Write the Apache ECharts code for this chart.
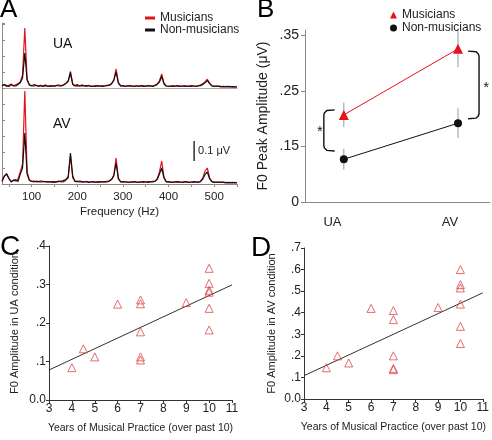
<!DOCTYPE html>
<html><head><meta charset="utf-8">
<script src="https://cdn.jsdelivr.net/npm/echarts@6/dist/echarts.min.js"></script>
<style>html,body{margin:0;padding:0;background:#fff}#c{width:492px;height:440px}</style>
</head><body><div id="c"></div>
<script>
const FONT = 'Liberation Sans, Arial, Helvetica, sans-serif';
const RED = '#e3131b';
const BLACK = '#111111';

// ---------- Panel A : spectra (µV) ----------
const freqHz = [
 35,40,45,50,55,60,65,70,75,80,
 85,90,95,100,105,110,115,120,125,130,
 135,140,145,150,155,160,165,170,175,180,
 185,190,195,200,205,210,215,220,225,230,
 235,240,245,250,255,260,265,270,275,280,
 285,290,295,300,305,310,315,320,325,330,
 335,340,345,350,355,360,365,370,375,380,
 385,390,395,400,405,410,415,420,425,430,
 435,440,445,450,455,460,465,470,475,480,
 485,490,495,500,505,510,515,520,525,530,
 535,540,545,550];
const uaMusicians = [
 0.012,0.016,0.008,0.014,0.020,0.010,0.016,0.022,0.030,0.065,
 0.300,0.045,0.014,0.010,0.018,0.012,0.008,0.014,0.010,0.016,
 0.008,0.012,0.010,0.008,0.012,0.016,0.010,0.014,0.022,0.032,
 0.072,0.020,0.012,0.018,0.010,0.016,0.012,0.008,0.014,0.010,
 0.008,0.012,0.010,0.008,0.012,0.010,0.014,0.012,0.020,0.040,
 0.096,0.028,0.012,0.010,0.008,0.012,0.010,0.008,0.010,0.012,
 0.008,0.010,0.012,0.008,0.010,0.012,0.010,0.014,0.020,0.036,
 0.070,0.024,0.010,0.008,0.010,0.012,0.008,0.010,0.008,0.010,
 0.012,0.008,0.010,0.008,0.010,0.008,0.012,0.014,0.022,0.032,
 0.044,0.024,0.012,0.010,0.008,0.010,0.008,0.006,0.008,0.006,
 0.008,0.006,0.007,0.006];
const uaNonMusicians = [
 0.010,0.018,0.012,0.008,0.016,0.012,0.010,0.018,0.026,0.050,
 0.175,0.040,0.016,0.012,0.010,0.014,0.010,0.012,0.008,0.012,
 0.010,0.008,0.012,0.010,0.014,0.010,0.012,0.016,0.024,0.035,
 0.082,0.018,0.010,0.012,0.010,0.012,0.010,0.012,0.010,0.008,
 0.010,0.008,0.012,0.010,0.008,0.010,0.012,0.014,0.022,0.038,
 0.080,0.024,0.010,0.012,0.008,0.010,0.012,0.010,0.008,0.010,
 0.010,0.012,0.008,0.010,0.012,0.010,0.008,0.012,0.018,0.030,
 0.058,0.020,0.010,0.008,0.010,0.008,0.010,0.012,0.008,0.010,
 0.008,0.010,0.008,0.012,0.010,0.008,0.010,0.012,0.018,0.026,
 0.038,0.022,0.010,0.008,0.010,0.008,0.006,0.008,0.006,0.008,
 0.006,0.007,0.005,0.006];
const avMusicians = [
 0.015,0.040,0.052,0.030,0.012,0.020,0.014,0.025,0.060,0.100,
 0.465,0.060,0.020,0.012,0.016,0.010,0.012,0.016,0.010,0.014,
 0.010,0.012,0.008,0.014,0.010,0.012,0.016,0.010,0.020,0.030,
 0.140,0.030,0.014,0.010,0.016,0.012,0.010,0.014,0.010,0.012,
 0.010,0.008,0.012,0.010,0.012,0.010,0.014,0.016,0.024,0.045,
 0.130,0.030,0.012,0.010,0.012,0.008,0.010,0.012,0.010,0.008,
 0.010,0.012,0.008,0.010,0.012,0.010,0.014,0.012,0.025,0.060,
 0.115,0.035,0.012,0.010,0.008,0.010,0.012,0.008,0.010,0.008,
 0.010,0.012,0.008,0.010,0.008,0.012,0.010,0.014,0.030,0.065,
 0.080,0.030,0.012,0.010,0.008,0.010,0.008,0.010,0.008,0.006,
 0.008,0.006,0.008,0.006];
const avNonMusicians = [
 0.012,0.038,0.050,0.028,0.010,0.018,0.022,0.012,0.050,0.080,
 0.255,0.050,0.018,0.014,0.010,0.014,0.012,0.010,0.014,0.010,
 0.012,0.010,0.012,0.008,0.012,0.014,0.010,0.018,0.022,0.035,
 0.155,0.040,0.012,0.014,0.010,0.012,0.010,0.012,0.008,0.010,
 0.012,0.010,0.008,0.012,0.010,0.012,0.010,0.014,0.022,0.040,
 0.105,0.026,0.010,0.012,0.010,0.010,0.008,0.010,0.012,0.010,
 0.008,0.010,0.012,0.010,0.008,0.012,0.010,0.014,0.022,0.050,
 0.080,0.030,0.010,0.012,0.010,0.008,0.010,0.012,0.010,0.008,
 0.012,0.010,0.008,0.010,0.012,0.010,0.008,0.012,0.025,0.048,
 0.060,0.026,0.012,0.008,0.010,0.008,0.010,0.008,0.006,0.008,
 0.006,0.008,0.006,0.007];
const freqTickLabels = [100,200,300,400,500];
const scaleBar = [[456, 0.115, 0.1]];   // freq, base, size (µV)
const scaleBarLabel = '0.1 μV';

// ---------- Panel B ----------
const conditions = ['UA','AV'];
const condX = [1, 2];
const condLabelX = [0.9, 1.93];
const bMusMean = [0.207, 0.326];
const bMusErr  = [0.022, 0.033];
const bNonMean = [0.127, 0.192];
const bNonErr  = [0.019, 0.027];
const bTickVals   = [0.05, 0.15, 0.25, 0.35];
const bTickLabels = ['0', '.15', '.25', '.35'];
const brackets = [[0.92, 0.825, 0.216, 0.142], [2.088, 2.184, 0.322, 0.200]];
const stars = [[0.79, 0.176], [2.246, 0.255]];

// ---------- Panels C / D ----------
const years = [4,4.5,5,6,7,7,7,7,7,9,10,10,10,10,10,10];
const f0UA = [0.084,0.133,0.112,0.249,0.260,0.250,0.177,0.112,0.104,0.253,0.342,0.303,0.285,0.280,0.238,0.182];
const f0AV = [0.145,0.200,0.167,0.420,0.410,0.368,0.200,0.142,0.136,0.424,0.600,0.530,0.515,0.440,0.337,0.257];
const fitUA = [[3,0.078],[11,0.299]];
const fitAV = [[3,0.108],[11,0.492]];

const zip = (xs, ys) => xs.map((x,i) => [x, ys[i]]);
const decFmt = v => v === 0 ? '0.0' : v.toFixed(1).replace(/^0/, '');
const txt = (size, extra) => Object.assign({fontFamily: FONT, fontSize: size, color: '#222'}, extra || {});

const chart = echarts.init(document.getElementById('c'), null, {renderer: 'canvas'});

const gray = '#8a8a8a';
const option = {
  animation: false,
  backgroundColor: '#fff',
  textStyle: {fontFamily: FONT},
  grid: [
    {left: 2, top: 23, width: 235, height: 65},
    {left: 2, top: 88, width: 235, height: 96},
    {left: 305, top: 30, width: 185, height: 172},
    {left: 49, top: 246, width: 183, height: 154},
    {left: 304, top: 248, width: 183, height: 151}
  ],
  legend: [
    {left: 140, top: 7, orient: 'vertical', itemWidth: 10, itemHeight: 3, itemGap: 0,
     textStyle: txt(12, {lineHeight: 12}), selectedMode: false,
     data: [{name: 'Musicians', icon: 'rect'}, {name: 'Non-musicians', icon: 'rect'}]},
    {left: 385, top: 4, orient: 'vertical', itemWidth: 7, itemHeight: 7, itemGap: 1,
     textStyle: txt(12, {lineHeight: 12}), selectedMode: false,
     data: [{name: 'Musicians', icon: 'triangle'}, {name: 'Non-musicians', icon: 'circle'}]}
  ],
  xAxis: [
    {gridIndex: 0, type: 'value', min: 35, max: 550, axisLine: {lineStyle: {color: '#aaa'}},
     axisTick: {show: false}, axisLabel: {show: false}, splitLine: {show: false}},
    {gridIndex: 1, type: 'value', min: 35, max: 550, axisLine: {lineStyle: {color: gray}},
     axisTick: {customValues: [50,100,150,200,250,300,350,400,450,500,550], length: 3, lineStyle: {color: gray}},
     axisLabel: {customValues: freqTickLabels, margin: 7, ...txt(11.5)},
     splitLine: {show: false},
     name: 'Frequency (Hz)', nameLocation: 'middle', nameGap: 22, nameTextStyle: txt(11.5)},
    {gridIndex: 2, type: 'value', min: 0.66, max: 2.28, axisLine: {lineStyle: {color: gray}},
     axisTick: {show: false},
     axisLabel: {customValues: condLabelX, margin: 14, ...txt(13),
                 formatter: v => conditions[condLabelX.indexOf(v)]},
     splitLine: {show: false}},
    {gridIndex: 3, type: 'value', min: 3, max: 11, interval: 1, axisLine: {lineStyle: {color: '#333'}},
     axisTick: {length: 3, lineStyle: {color: '#333'}}, axisLabel: {margin: 3, ...txt(12)},
     splitLine: {show: false},
     name: 'Years of Musical Practice (over past 10)', nameLocation: 'middle', nameGap: 23, nameTextStyle: txt(10.5)},
    {gridIndex: 4, type: 'value', min: 3, max: 11, interval: 1, axisLine: {lineStyle: {color: '#333'}},
     axisTick: {length: 3, lineStyle: {color: '#333'}}, axisLabel: {margin: 3, ...txt(12)},
     splitLine: {show: false},
     name: 'Years of Musical Practice (over past 10)', nameLocation: 'middle', nameGap: 23, nameTextStyle: txt(10.5)}
  ],
  yAxis: [
    {gridIndex: 0, type: 'value', min: 0, max: 0.325, interval: 0.08,
     axisLine: {show: true, lineStyle: {color: gray}},
     axisTick: {show: true, inside: true, length: 3, lineStyle: {color: gray}},
     axisLabel: {show: false}, splitLine: {show: false}},
    {gridIndex: 1, type: 'value', min: 0, max: 0.48, interval: 0.08,
     axisLine: {show: true, lineStyle: {color: gray}},
     axisTick: {show: true, inside: true, length: 3, lineStyle: {color: gray}},
     axisLabel: {show: false}, splitLine: {show: false}},
    {gridIndex: 2, type: 'value', min: 0.05, max: 0.36,
     axisLine: {show: true, lineStyle: {color: gray}},
     axisTick: {show: true, customValues: bTickVals, length: 4, lineStyle: {color: gray}},
     axisLabel: {customValues: bTickVals, margin: 6, ...txt(14),
                 formatter: v => bTickLabels[bTickVals.indexOf(v)]},
     splitLine: {show: false},
     name: 'F0 Peak Amplitude (μV)', nameLocation: 'middle', nameGap: 35, nameTextStyle: txt(14)},
    {gridIndex: 3, type: 'value', min: 0, max: 0.4, interval: 0.1,
     axisLine: {show: true, lineStyle: {color: '#333'}},
     axisTick: {show: true, length: 3, lineStyle: {color: '#333'}},
     axisLabel: {margin: 3, formatter: decFmt, ...txt(12)}, splitLine: {show: false},
     name: 'F0 Amplitude in UA condition', nameLocation: 'middle', nameGap: 29, nameTextStyle: txt(11)},
    {gridIndex: 4, type: 'value', min: 0, max: 0.7, interval: 0.1,
     axisLine: {show: true, lineStyle: {color: '#333'}},
     axisTick: {show: true, length: 3, lineStyle: {color: '#333'}},
     axisLabel: {margin: 3, formatter: decFmt, ...txt(12)}, splitLine: {show: false},
     name: 'F0 Amplitude in AV condition', nameLocation: 'middle', nameGap: 27, nameTextStyle: txt(11)}
  ],
  graphic: [
    {type: 'text', left: 0, top: -3, style: {text: 'A', font: '26px ' + FONT, fill: '#000'}},
    {type: 'text', left: 257, top: -3, style: {text: 'B', font: '26px ' + FONT, fill: '#000'}},
    {type: 'text', left: 0, top: 233, style: {text: 'C', font: '28px ' + FONT, fill: '#000'}},
    {type: 'text', left: 251, top: 234, style: {text: 'D', font: '28px ' + FONT, fill: '#000'}},
    {type: 'text', left: 53, top: 37, style: {text: 'UA', font: '14px ' + FONT, fill: '#111'}},
    {type: 'text', left: 53, top: 117, style: {text: 'AV', font: '14px ' + FONT, fill: '#111'}}
  ],
  series: [
    {name: 'Musicians', type: 'line', xAxisIndex: 0, yAxisIndex: 0, data: zip(freqHz, uaMusicians),
     showSymbol: false, color: RED, lineStyle: {width: 1.2, color: RED}, z: 2},
    {name: 'Non-musicians', type: 'line', xAxisIndex: 0, yAxisIndex: 0, data: zip(freqHz, uaNonMusicians),
     showSymbol: false, color: BLACK, lineStyle: {width: 1.2, color: BLACK}, z: 3},
    {name: 'Musicians', type: 'line', xAxisIndex: 1, yAxisIndex: 1, data: zip(freqHz, avMusicians),
     showSymbol: false, color: RED, lineStyle: {width: 1.2, color: RED}, z: 2},
    {name: 'Non-musicians', type: 'line', xAxisIndex: 1, yAxisIndex: 1, data: zip(freqHz, avNonMusicians),
     showSymbol: false, color: BLACK, lineStyle: {width: 1.2, color: BLACK}, z: 3},
    {type: 'custom', xAxisIndex: 1, yAxisIndex: 1, data: scaleBar, z: 4,
     renderItem: (p, api) => {
       const f = api.value(0), b = api.value(1), s = api.value(2);
       const p1 = api.coord([f, b]), p2 = api.coord([f, b + s]);
       return {type: 'group', children: [
         {type: 'line', shape: {x1: p1[0], y1: p1[1], x2: p2[0], y2: p2[1]}, style: {stroke: '#111', lineWidth: 1.3}},
         {type: 'text', style: {x: p1[0] + 4, y: (p1[1] + p2[1]) / 2, text: scaleBarLabel, fill: '#222',
           fontSize: 11, fontFamily: FONT, verticalAlign: 'middle', align: 'left'}}
       ]};
     }},
    // Panel B error bars
    {type: 'custom', xAxisIndex: 2, yAxisIndex: 2, z: 1,
     data: condX.map((x,i) => [x, bMusMean[i], bMusErr[i]]).concat(condX.map((x,i) => [x, bNonMean[i], bNonErr[i]])),
     renderItem: (p, api) => {
       const x = api.value(0), m = api.value(1), e = api.value(2);
       const a = api.coord([x, m + e]), b = api.coord([x, m - e]);
       return {type: 'line', shape: {x1: a[0], y1: a[1], x2: b[0], y2: b[1]}, style: {stroke: '#9a9a9a', lineWidth: 1}};
     }},
    {name: 'Musicians', type: 'line', xAxisIndex: 2, yAxisIndex: 2, data: zip(condX, bMusMean),
     symbol: 'triangle', symbolSize: 10, color: RED, itemStyle: {color: RED}, lineStyle: {color: RED, width: 1}, z: 3},
    {name: 'Non-musicians', type: 'line', xAxisIndex: 2, yAxisIndex: 2, data: zip(condX, bNonMean),
     symbol: 'circle', symbolSize: 8, color: BLACK, itemStyle: {color: BLACK}, lineStyle: {color: BLACK, width: 1}, z: 3},
    {type: 'custom', xAxisIndex: 2, yAxisIndex: 2, data: brackets, z: 2,
     renderItem: (p, api) => {
       const x0 = api.value(0), x1 = api.value(1), yT = api.value(2), yB = api.value(3);
       const a = api.coord([x0, yT]), c = api.coord([x1, yT]), d = api.coord([x1, yB]), b = api.coord([x0, yB]);
       const dir = a[0] > c[0] ? 1 : -1;
       const pts = [[a[0], a[1]], [c[0] + dir * 3, c[1] + 0.6], [c[0] + dir * 0.6, c[1] + 3], [c[0], c[1] + 5],
                    [d[0], d[1] - 5], [d[0] + dir * 0.6, d[1] - 3], [d[0] + dir * 3, d[1] - 0.6], [b[0], b[1]]];
       return {type: 'polyline', shape: {points: pts}, style: {stroke: '#111', lineWidth: 1.4, fill: null}};
     }},
    {type: 'custom', xAxisIndex: 2, yAxisIndex: 2, data: stars, z: 2,
     renderItem: (p, api) => {
       const c = api.coord([api.value(0), api.value(1)]);
       return {type: 'text', style: {x: c[0], y: c[1], text: '*', fill: '#222', fontSize: 15, fontFamily: FONT,
         align: 'center', verticalAlign: 'middle'}};
     }},
    // Panel C
    {type: 'line', xAxisIndex: 3, yAxisIndex: 3, data: fitUA, showSymbol: false, lineStyle: {color: '#333', width: 1}, z: 1},
    {type: 'scatter', xAxisIndex: 3, yAxisIndex: 3, data: zip(years, f0UA), symbol: 'triangle', symbolSize: 8,
     itemStyle: {color: 'rgba(255,255,255,0)', borderColor: '#e04848', borderWidth: 1}, z: 2},
    // Panel D
    {type: 'line', xAxisIndex: 4, yAxisIndex: 4, data: fitAV, showSymbol: false, lineStyle: {color: '#333', width: 1}, z: 1},
    {type: 'scatter', xAxisIndex: 4, yAxisIndex: 4, data: zip(years, f0AV), symbol: 'triangle', symbolSize: 8,
     itemStyle: {color: 'rgba(255,255,255,0)', borderColor: '#e04848', borderWidth: 1}, z: 2}
  ]
};
chart.setOption(option);
</script>
</body></html>
